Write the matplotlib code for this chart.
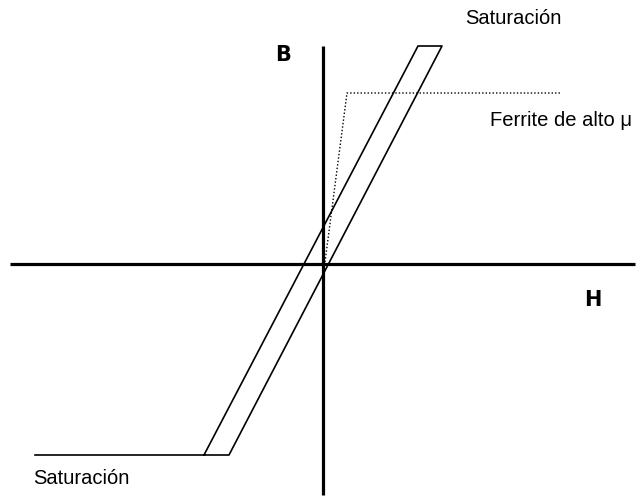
import matplotlib
matplotlib.use('Agg')
import matplotlib.pyplot as plt

# Hysteresis loop (H, B), drawn in abstract units
loop_h = [-2.88, -1.19, 0.95, 1.19, -0.94, -1.19]
loop_b = [-1.91, -1.91, 2.18, 2.18, -1.91, -1.91]

# High-mu ferrite curve (dotted)
ferrite_h = [0.02, 0.24, 2.37]
ferrite_b = [0.02, 1.71, 1.71]

# Axis extents
h_axis = [-3.13, 3.12]
b_axis = [2.18, -2.31]

fig = plt.figure(figsize=(6.38, 4.99), dpi=100)
ax = fig.add_axes([0, 0, 1, 1])
ax.set_xlim(-3.23, 3.15)
ax.set_ylim(-2.35, 2.64)
ax.axis('off')

ax.plot(h_axis, [0, 0], color='black', lw=2.3, solid_capstyle='butt')
ax.plot([0, 0], b_axis, color='black', lw=2.3, solid_capstyle='butt')

ax.plot(loop_h, loop_b, color='black', lw=1.2)
ax.plot(ferrite_h, ferrite_b, color='black', lw=1.0, linestyle=(0, (1, 1.5)))

ax.text(-0.40, 2.09, 'B', fontsize=15, fontweight='bold', ha='center', va='center')
ax.text(2.70, -0.36, 'H', fontsize=15, fontweight='bold', ha='center', va='center')
ax.text(1.90, 2.46, 'Saturación', fontsize=14.5, family='Liberation Sans', ha='center', va='center')
ax.text(-2.42, -2.14, 'Saturación', fontsize=14.5, family='Liberation Sans', ha='center', va='center')
ax.text(2.38, 1.44, 'Ferrite de alto μ', fontsize=14.5, family='Liberation Sans', ha='center', va='center')

fig.savefig('out.png', dpi=100)
